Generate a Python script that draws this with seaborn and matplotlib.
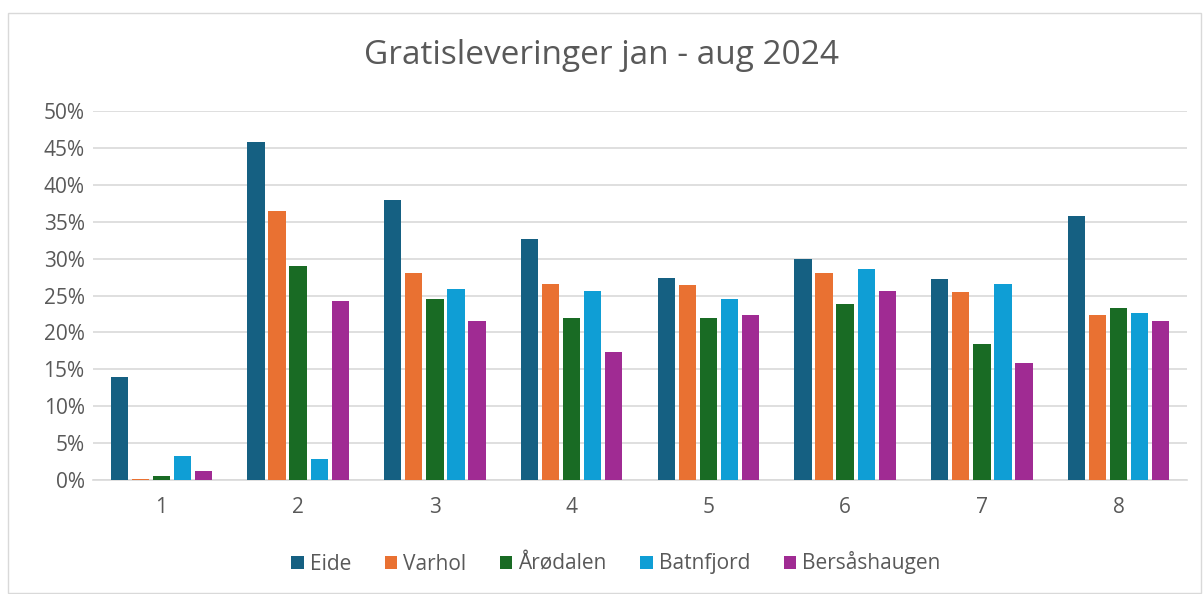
import matplotlib
matplotlib.use("Agg")
import matplotlib.pyplot as plt
import seaborn as sns
import pandas as pd
from matplotlib.patches import Rectangle
from matplotlib.ticker import PercentFormatter, MultipleLocator

months = ["1", "2", "3", "4", "5", "6", "7", "8"]
series = ["Eide", "Varhol", "Årødalen", "Batnfjord", "Bersåshaugen"]
eide = [13.9, 45.8, 37.9, 32.7, 27.4, 29.9, 27.3, 35.8]
varhol = [0.2, 36.5, 28.1, 26.6, 26.4, 28.0, 25.5, 22.4]
arodalen = [0.5, 29.0, 24.5, 21.9, 21.9, 23.8, 18.4, 23.3]
batnfjord = [3.3, 2.9, 25.9, 25.6, 24.5, 28.6, 26.6, 22.6]
bersashaugen = [1.2, 24.2, 21.6, 17.4, 22.4, 25.6, 15.8, 21.6]
colors = ["#156082", "#E97132", "#196B24", "#0F9ED5", "#A02B93"]

values = [eide, varhol, arodalen, batnfjord, bersashaugen]
rows = []
for name, vals in zip(series, values):
    for m, v in zip(months, vals):
        rows.append({"Måned": m, "Andel": v, "Sted": name})
df = pd.DataFrame(rows)

sns.set_theme(style="white")
plt.rcParams["font.family"] = ["Open Sans", "DejaVu Sans"]
text_color = "#595959"

fig = plt.figure(figsize=(12.03, 5.94), dpi=100)
ax = fig.add_axes([93 / 1203, 1 - 480 / 594, (1187 - 93) / 1203, (480 - 111) / 594])

sns.barplot(data=df, x="Måned", y="Andel", hue="Sted", hue_order=series,
            palette=colors, width=0.77, gap=0.18, ax=ax, legend=True,
            saturation=1, edgecolor="none", linewidth=0, zorder=3)

ax.set_ylim(0, 50)
ax.yaxis.set_major_locator(MultipleLocator(5))
ax.yaxis.set_major_formatter(PercentFormatter(decimals=0))
ax.grid(axis="y", color="#D9D9D9", linewidth=1.2)
ax.set_axisbelow(True)
for s in ["top", "right", "left"]:
    ax.spines[s].set_visible(False)
ax.spines["bottom"].set_color("#D9D9D9")
ax.spines["bottom"].set_linewidth(1.2)
ax.spines["bottom"].set_zorder(1)
ax.set_xlabel("")
ax.set_ylabel("")
ax.tick_params(axis="both", length=0, labelsize=15, colors=text_color, pad=6)
ax.tick_params(axis="x", pad=12)

fig.text(0.5, 1 - 55 / 594, "Gratisleveringer jan - aug 2024", ha="center", va="center",
         fontsize=24, color=text_color)

handles, labels = ax.get_legend_handles_labels()
ax.legend_.remove()
fig.legend(handles, labels, loc="center", bbox_to_anchor=(0.512, 1 - 563 / 594), ncol=5,
           frameon=False, fontsize=15, labelcolor=text_color, handlelength=0.6,
           handleheight=0.6, handletextpad=0.3, columnspacing=1.6)

fig.patches.append(Rectangle((8 / 1203, 0.002), 1 - 10 / 1203, 1 - 14 / 594,
                             transform=fig.transFigure, fill=False,
                             edgecolor="#D9D9D9", linewidth=1))

fig.savefig("out.png", dpi=100)
